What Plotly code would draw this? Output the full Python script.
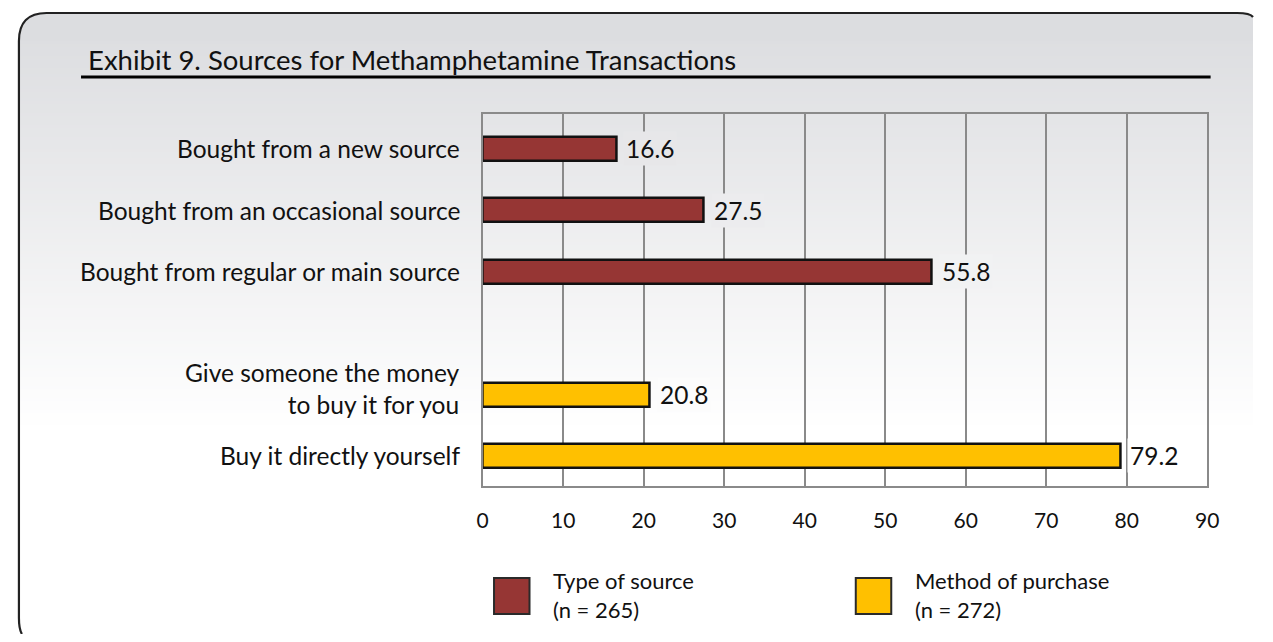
import plotly.graph_objects as go

# chart values
source_labels = [
    "Bought from a new source",
    "Bought from an occasional source",
    "Bought from regular or main source",
]
source_values = [16.6, 27.5, 55.8]
purchase_labels = [
    "Give someone the money<br>to buy it for you",
    "Buy it directly yourself",
]
purchase_values = [20.8, 79.2]
x_ticks = [0, 10, 20, 30, 40, 50, 60, 70, 80, 90]
legend_texts = ["Type of source<br>(n = 265)", "Method of purchase<br>(n = 272)"]
title_text = "Exhibit 9. Sources for Methamphetamine Transactions"

# the page body keeps its default 8px margin, so the figure is sized to fit
# inside it and everything below is placed in window pixels
WIN_W, WIN_H = 1273, 642
OX = OY = 8
FW, FH = WIN_W - 2 * OX, WIN_H - 2 * OY
FONT = "Lato"
INK = "#111111"
RED = "#963634"
YELLOW = "#FFC000"
GRID = "#8a8a8a"


def px(x):
    return (x - OX) / FW


def py(y):
    return 1 - (y - OY) / FH


TOP_RGB = (219, 220, 223)
GRAD_TOP, GRAD_BOTTOM = 15, 430


def grad_color(y):
    t = min(max((y - GRAD_TOP) / (GRAD_BOTTOM - GRAD_TOP), 0), 1)
    r, g, b = (round(c + (255 - c) * t) for c in TOP_RGB)
    return f"rgb({r},{g},{b})"


# one empty slot between the two groups
source_pos = list(range(len(source_labels)))
purchase_pos = [len(source_labels) + 1 + i for i in range(len(purchase_labels))]
y_range = [len(source_labels) + len(purchase_labels) + 0.49, -0.57]

fig = go.Figure()
fig.add_trace(go.Bar(
    x=source_values, y=source_pos, orientation="h", width=0.39,
    marker=dict(color=RED, line=dict(color=INK, width=2.5)),
    name="Type of source", hoverinfo="x",
))
fig.add_trace(go.Bar(
    x=purchase_values, y=purchase_pos, orientation="h", width=0.39,
    marker=dict(color=YELLOW, line=dict(color=INK, width=2.5)),
    name="Method of purchase", hoverinfo="x",
))

PLOT_L, PLOT_R, PLOT_T, PLOT_B = 483.5, 1218.5, 114, 486


def slot_px(pos):
    return PLOT_T + (pos - y_range[1]) / (y_range[0] - y_range[1]) * (PLOT_B - PLOT_T)


annotations = []
# category labels to the left of the plot
for labels, poss in ((source_labels, source_pos), (purchase_labels, purchase_pos)):
    for lab, p in zip(labels, poss):
        annotations.append(dict(
            x=px(463), y=p, xref="paper", yref="y", text=lab, showarrow=False,
            xanchor="right", yanchor="middle", align="right",
            yshift=6 if "<br>" in lab else 0,
            font=dict(family=FONT, size=24.5, color=INK),
        ))

# value labels, with a backing box that hides the gridlines like the original
for vals, poss in ((source_values, source_pos), (purchase_values, purchase_pos)):
    for v, p in zip(vals, poss):
        annotations.append(dict(
            x=v, y=p, xref="x", yref="y", text=f"{v:.1f}", showarrow=False,
            xanchor="left", yanchor="middle", xshift=7,
            font=dict(family=FONT, size=24.5, color=INK),
            bgcolor=grad_color(slot_px(p)), borderpad=2,
        ))

annotations.append(dict(
    x=px(81), y=py(59), xref="paper", yref="paper", text=title_text,
    showarrow=False, xanchor="left", yanchor="middle",
    font=dict(family=FONT, size=27.5, color=INK),
))

legend_boxes = [(495, RED), (862, YELLOW)]
for (lx, col), txt in zip(legend_boxes, legend_texts):
    annotations.append(dict(
        x=px(lx + 58), y=py(595), xref="paper", yref="paper", text=txt,
        showarrow=False, xanchor="left", yanchor="middle", align="left",
        font=dict(family=FONT, size=22, color=INK),
    ))

# background gradient + frame (right and bottom edges run off the page)
L, T = 13, 13
R, B = OX + FW, OY + FH
r = 28
corner_tr = f"L {px(R - 16)},{py(T)} Q {px(R - 3)},{py(T)} {px(R)},{py(T + 4)}"
shapes = [dict(
    type="path", xref="paper", yref="paper", layer="below", line=dict(width=0),
    fillcolor=grad_color(T + r / 2),
    path=(f"M {px(L)},{py(T + r)} Q {px(L)},{py(T)} {px(L + r)},{py(T)} "
          f"{corner_tr} L {px(R)},{py(T + r)} Z"),
)]
step = 3
y = T + r
while y < GRAD_BOTTOM:
    shapes.append(dict(
        type="rect", xref="paper", yref="paper", layer="below", line=dict(width=0),
        x0=px(L), x1=px(R), y0=py(y), y1=py(y + step + 0.5),
        fillcolor=grad_color(y + step / 2),
    ))
    y += step
shapes.append(dict(
    type="path", xref="paper", yref="paper", layer="below",
    line=dict(color="#222222", width=2.2),
    path=(f"M {px(16)},{py(B)} Q {px(L)},{py(B - 5)} {px(L)},{py(B - 16)} "
          f"L {px(L)},{py(T + r)} Q {px(L)},{py(T)} {px(L + r)},{py(T)} {corner_tr}"),
))
# title rule
shapes.append(dict(
    type="line", xref="paper", yref="paper", x0=px(76), x1=px(1222),
    y0=py(77), y1=py(77), line=dict(color="#000000", width=3),
))
# legend swatches
for lx, col in legend_boxes:
    shapes.append(dict(
        type="rect", xref="paper", yref="paper", x0=px(lx), x1=px(lx + 36),
        y0=py(578), y1=py(614), fillcolor=col, line=dict(color="#2a2a2a", width=2),
    ))

fig.update_layout(
    width=FW, height=FH,
    margin=dict(l=0, r=0, t=0, b=0),
    paper_bgcolor="white", plot_bgcolor="rgba(0,0,0,0)",
    showlegend=False, bargap=0,
    font=dict(family=FONT, color=INK),
    annotations=annotations, shapes=shapes,
    xaxis=dict(
        domain=[px(PLOT_L), px(PLOT_R)], range=[0, 90], tickvals=x_ticks,
        showgrid=True, gridcolor=GRID, gridwidth=2, zeroline=False,
        showline=True, mirror=True, linecolor=GRID, linewidth=2,
        ticks="", ticklabelstandoff=15, tickfont=dict(size=21, color=INK),
        fixedrange=True,
    ),
    yaxis=dict(
        domain=[py(PLOT_B), py(PLOT_T)], range=y_range,
        showticklabels=False, showgrid=False, zeroline=False,
        showline=True, mirror=True, linecolor=GRID, linewidth=2,
        ticks="", fixedrange=True,
    ),
)

fig.write_html("out.html", config={"displayModeBar": False})
